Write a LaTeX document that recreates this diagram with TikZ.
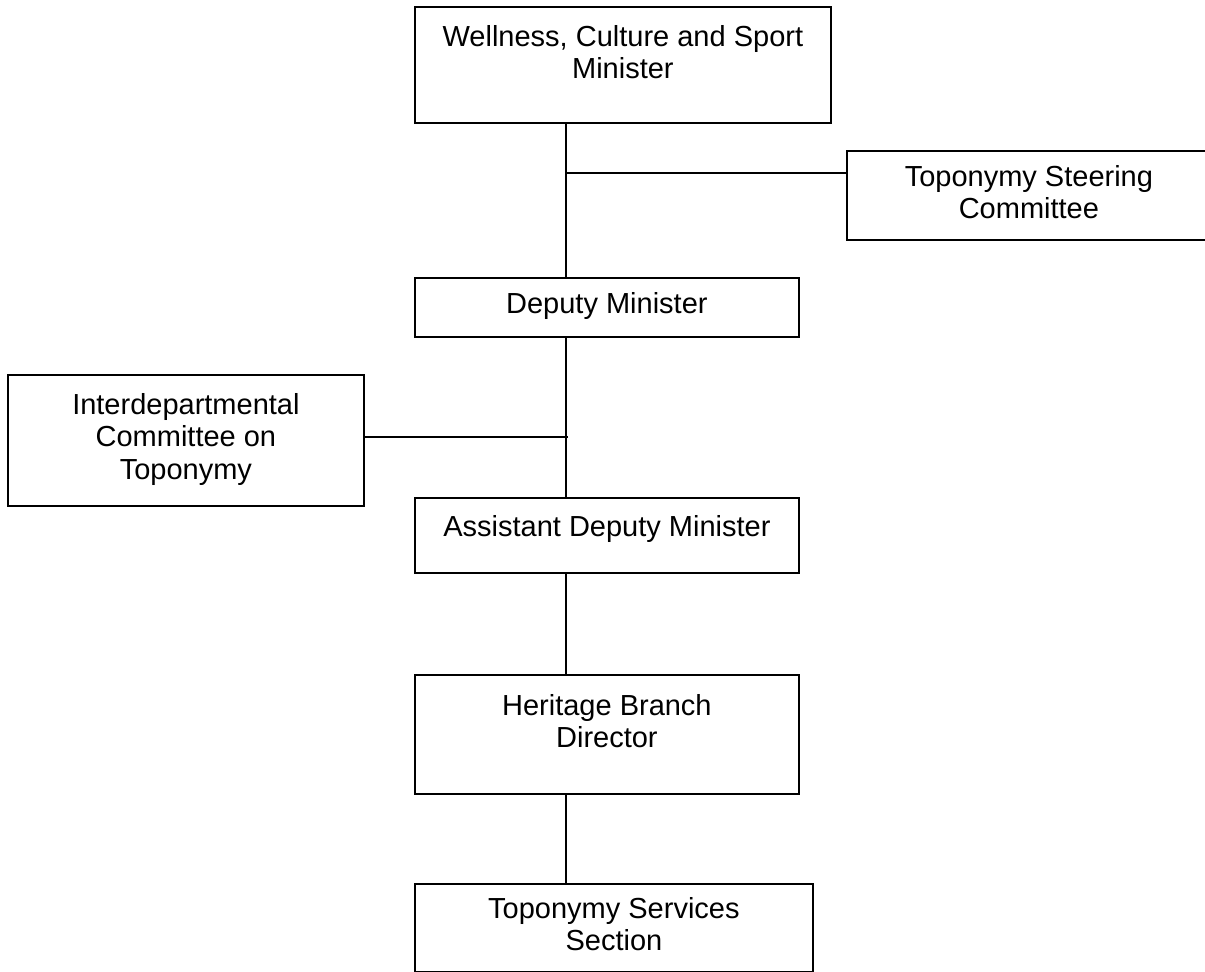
\documentclass[tikz,border=0pt]{standalone}
\usepackage{fontspec}
\setmainfont{Liberation Sans}
\usetikzlibrary{calc}
\begin{document}
\begin{tikzpicture}[x=1pt,y=-1pt,
  box/.style={draw=black, line width=1.8pt, anchor=north west, inner sep=0pt, fill=white},
  lbl/.style={anchor=north, align=center, inner sep=0pt,
    font=\fontsize{29}{32.5}\selectfont},
  conn/.style={draw=black, line width=1.6pt}]
\useasboundingbox (0,0) rectangle (1205,972);
\fill[white] (0,0) rectangle (1205,972);

% organisation boxes
\node[box, minimum width=416, minimum height=116] (top)   at (414,6)   {};
\node[box, minimum width=364, minimum height=89]  (steer) at (846,150) {};
\node[box, minimum width=384, minimum height=59]  (dep)   at (414,277) {};
\node[box, minimum width=356, minimum height=131] (inter) at (7,374)   {};
\node[box, minimum width=384, minimum height=75]  (adm)   at (414,497) {};
\node[box, minimum width=384, minimum height=119] (her)   at (414,674) {};
\node[box, minimum width=398, minimum height=88]  (serv)  at (414,883) {};

% box titles
\node[lbl] (topT)   at ($(top.north)+(0,19)$)   {Wellness, Culture and Sport\\Minister};
\node[lbl] (steerT) at ($(steer.north)+(0,15)$) {Toponymy Steering\\Committee};
\node[lbl] (depT)   at ($(dep.north)+(0,15)$)   {Deputy Minister};
\node[lbl] (interT) at ($(inter.north)+(0,19)$) {Interdepartmental\\Committee on\\Toponymy};
\node[lbl] (admT)   at ($(adm.north)+(0,18)$)   {Assistant Deputy Minister};
\node[lbl] (herT)   at ($(her.north)+(0,20)$)   {Heritage Branch\\Director};
\node[lbl] (servT)  at ($(serv.north)+(0,14)$)  {Toponymy Services\\Section};

% reporting lines
\coordinate (jS) at (566,173);
\coordinate (jI) at (568,437);
\draw[conn] (top.south -| jS) -- (dep.north -| jS);
\draw[conn] (jS) -- (jS -| steer.west);
\draw[conn] (dep.south -| jS) -- (adm.north -| jS);
\draw[conn] (inter.east |- jI) -- (jI);
\draw[conn] (adm.south -| jS) -- (her.north -| jS);
\draw[conn] (her.south -| jS) -- (serv.north -| jS);
\end{tikzpicture}
\end{document}
